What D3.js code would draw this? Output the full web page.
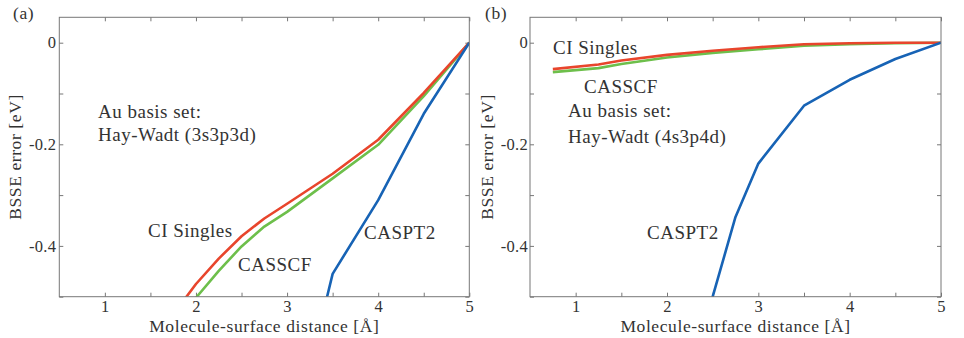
<!DOCTYPE html>
<html>
<head>
<meta charset="utf-8">
<script src="https://cdn.jsdelivr.net/npm/d3@7"></script>
<style>
  body { margin: 0; background: #fff; }
  svg text { font-family: "Liberation Serif", "DejaVu Serif", serif; fill: #333; }
  .axis text { font-size: 16.5px; letter-spacing: 0.3px; }
  .axis line { stroke: #777; }
  .lbl { font-size: 19px; letter-spacing: 0.5px; }
  .title { font-size: 17.5px; letter-spacing: 0.6px; }
</style>
</head>
<body>
<svg id="chart" width="964" height="338"></svg>
<script>
// panel (a): Hay-Wadt (3s3p3d)
let distA = [1.75, 2, 2.25, 2.5, 2.75, 3, 3.5, 4, 4.5, 5];
let ciSinglesA = [-0.535, -0.475, -0.425, -0.381, -0.346, -0.317, -0.258, -0.191, -0.099, 0];
let casscfA = [-0.56, -0.502, -0.449, -0.401, -0.362, -0.333, -0.267, -0.201, -0.105, 0];
let caspt2DistA = [3.25, 3.5, 4, 4.5, 5];
let caspt2A = [-0.64, -0.455, -0.31, -0.14, 0];

// panel (b): Hay-Wadt (4s3p4d)
let distB = [0.75, 1.25, 1.5, 2, 2.5, 3, 3.5, 4, 4.5, 5];
let ciSinglesB = [-0.052, -0.043, -0.035, -0.024, -0.016, -0.009, -0.003, -0.001, 0, 0];
let casscfB = [-0.058, -0.05, -0.042, -0.029, -0.02, -0.013, -0.006, -0.003, -0.001, 0];
let caspt2DistB = [2.25, 2.5, 2.75, 3, 3.5, 4, 4.5, 5];
let caspt2B = [-0.62, -0.5, -0.343, -0.238, -0.124, -0.073, -0.032, 0];

let xTicks = [1, 1.5, 2, 2.5, 3, 3.5, 4, 4.5, 5];
let yTicks = [-0.5, -0.4, -0.3, -0.2, -0.1, 0];
let yLabelTicks = [0, -0.2, -0.4];

let colRed = "#e8452c", colGreen = "#6dbf4b", colBlue = "#1763b5";

let svg = d3.select("#chart");
let plotTop = 17.3, plotBottom = 296.7;

function yFmt(d) {
  if (!yLabelTicks.some(v => Math.abs(v - d) < 1e-9)) return "";
  return Math.abs(d) < 1e-9 ? "0" : "-" + Math.abs(d).toFixed(1);
}

function drawPanel(p) {
  let g = svg.append("g");
  let x = d3.scaleLinear().domain([0.5, 5]).range([p.left, p.right]);
  let y = d3.scaleLinear().domain([-0.5, 0.05]).range([plotBottom, plotTop]);

  let clipId = "clip" + p.tag;
  svg.append("clipPath").attr("id", clipId)
    .append("rect")
    .attr("x", p.left).attr("y", plotTop)
    .attr("width", p.right - p.left).attr("height", plotBottom - plotTop);

  // axes with inward ticks, labels only on the major ones
  g.append("g").attr("class", "axis")
    .attr("transform", `translate(0,${plotBottom})`)
    .call(d3.axisBottom(x).tickValues(xTicks).tickSize(-4).tickPadding(4)
      .tickFormat(d => Number.isInteger(d) ? d : ""));
  g.append("g").attr("class", "axis")
    .attr("transform", `translate(0,${plotTop})`)
    .call(d3.axisTop(x).tickValues(xTicks).tickSize(-4).tickFormat(""));
  g.append("g").attr("class", "axis")
    .attr("transform", `translate(${p.left},0)`)
    .call(d3.axisLeft(y).tickValues(yTicks).tickSize(-4).tickPadding(p.pad).tickFormat(yFmt));
  g.append("g").attr("class", "axis")
    .attr("transform", `translate(${p.right},0)`)
    .call(d3.axisRight(y).tickValues(yTicks).tickSize(-4).tickFormat(""));
  g.selectAll(".axis .domain").remove();
  g.selectAll(".axis text").filter(function() { return this.textContent === ""; }).remove();

  let line = d3.line().x(d => x(d[0])).y(d => y(d[1]));
  let lines = g.append("g").attr("clip-path", `url(#${clipId})`);
  p.series.forEach(s => {
    lines.append("path")
      .datum(s.xs.map((v, i) => [v, s.ys[i]]))
      .attr("d", line)
      .attr("fill", "none")
      .attr("stroke", s.color)
      .attr("stroke-width", 2.6)
      .attr("stroke-linejoin", "round");
  });

  g.append("rect")
    .attr("x", p.left).attr("y", plotTop)
    .attr("width", p.right - p.left).attr("height", plotBottom - plotTop)
    .attr("fill", "none").attr("stroke", "#777").attr("stroke-width", 1);

  g.append("text").attr("class", "title")
    .attr("x", (p.left + p.right) / 2).attr("y", 331.5)
    .attr("text-anchor", "middle")
    .text("Molecule-surface distance [Å]");
  g.append("text").attr("class", "title")
    .attr("transform", `translate(${p.yTitleX},${(plotTop + plotBottom) / 2}) rotate(-90)`)
    .attr("text-anchor", "middle").attr("dy", "0.35em")
    .text("BSSE error [eV]");
  g.append("text").attr("class", "title")
    .attr("x", p.tagX).attr("y", 19)
    .text("(" + p.tag + ")");

  p.notes.forEach(n => {
    g.append("text").attr("class", "lbl")
      .attr("x", n[0]).attr("y", n[1]).text(n[2]);
  });
}

drawPanel({
  tag: "a", left: 59.3, right: 469.3, pad: 3, yTitleX: 15, tagX: 13,
  series: [
    { xs: distA, ys: casscfA, color: colGreen },
    { xs: distA, ys: ciSinglesA, color: colRed },
    { xs: caspt2DistA, ys: caspt2A, color: colBlue }
  ],
  notes: [
    [98, 117.5, "Au basis set:"],
    [98, 141, "Hay-Wadt (3s3p3d)"],
    [148, 237, "CI Singles"],
    [238, 271, "CASSCF"],
    [364, 239, "CASPT2"]
  ]
});

drawPanel({
  tag: "b", left: 530, right: 941, pad: 2, yTitleX: 487, tagX: 485,
  series: [
    { xs: distB, ys: casscfB, color: colGreen },
    { xs: distB, ys: ciSinglesB, color: colRed },
    { xs: caspt2DistB, ys: caspt2B, color: colBlue }
  ],
  notes: [
    [553, 54, "CI Singles"],
    [584, 92.7, "CASSCF"],
    [568, 117, "Au basis set:"],
    [568, 143, "Hay-Wadt (4s3p4d)"],
    [647, 239, "CASPT2"]
  ]
});
</script>
</body>
</html>
